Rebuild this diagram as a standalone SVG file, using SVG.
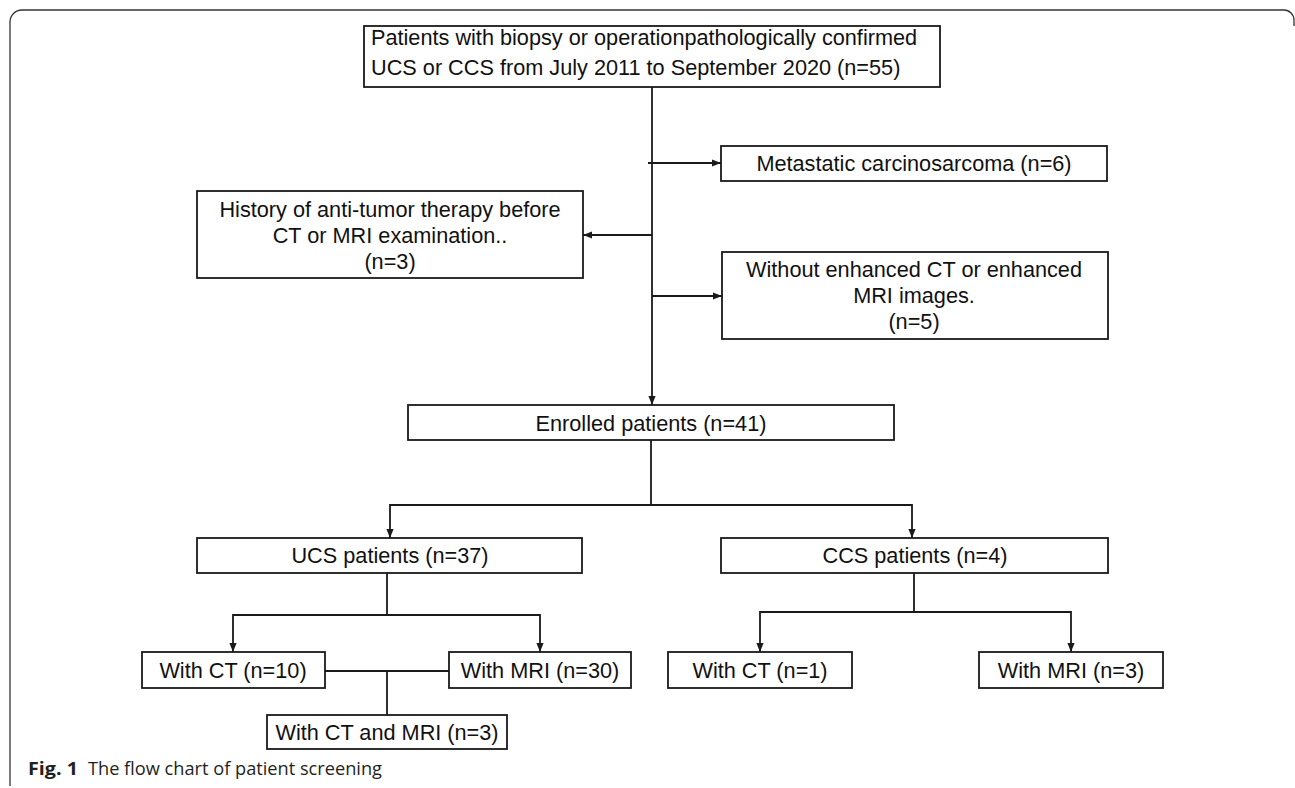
<svg xmlns="http://www.w3.org/2000/svg" width="1295" height="788" viewBox="0 0 1295 788">
<style>
.box{fill:#fff;stroke:#1a1a1a;stroke-width:1.8}
.t{font-family:"Liberation Sans",Arial,sans-serif;font-size:21.7px;fill:#111;text-anchor:middle}
.ln{fill:none;stroke:#1a1a1a;stroke-width:1.8}
.cap{font-family:"Open Sans","Noto Sans",sans-serif;font-size:18.5px;fill:#231f20}
</style>
<defs>
<marker id="ah" viewBox="0 0 10 8" refX="10" refY="4" markerWidth="9" markerHeight="7.2" orient="auto" markerUnits="userSpaceOnUse">
<path d="M0,0 L10,4 L0,8 z" fill="#1a1a1a"/>
</marker>
</defs>
<rect width="1295" height="788" fill="#fff"/>
<path d="M10,786 V22 A12,12 0 0 1 22,10 H1284 A10,10 0 0 1 1294,20 V26" fill="none" stroke="#333" stroke-width="1.3"/>

<g id="connectors">
<path class="ln" d="M652,87 V405" marker-end="url(#ah)"/>
<path class="ln" d="M648,163 H721" marker-end="url(#ah)"/>
<path class="ln" d="M652,235 H583" marker-end="url(#ah)"/>
<path class="ln" d="M652,296 H722" marker-end="url(#ah)"/>
<path class="ln" d="M651,440 V505 H390 V538" marker-end="url(#ah)"/>
<path class="ln" d="M651,505 H912 V538" marker-end="url(#ah)"/>
<path class="ln" d="M387,573 V615 H233 V652" marker-end="url(#ah)"/>
<path class="ln" d="M387,615 H540 V652" marker-end="url(#ah)"/>
<path class="ln" d="M914,573 V612 H760 V652" marker-end="url(#ah)"/>
<path class="ln" d="M914,612 H1071 V652" marker-end="url(#ah)"/>
<path class="ln" d="M325,671 H449 M387,671 V715"/>
</g>

<g id="n_top"><rect class="box" x="364" y="26" width="576" height="61"/>
<text class="t" x="371" y="45" style="text-anchor:start">Patients with biopsy or operationpathologically confirmed</text>
<text class="t" x="371" y="75" style="text-anchor:start">UCS or CCS from July 2011 to September 2020 (n=55)</text></g>
<g id="n_meta"><rect class="box" x="721" y="146" width="386" height="35"/>
<text class="t" x="914" y="171">Metastatic carcinosarcoma (n=6)</text></g>
<g id="n_hist"><rect class="box" x="197" y="191" width="386" height="87"/>
<text class="t" x="390" y="217">History of anti-tumor therapy before</text>
<text class="t" x="390" y="243">CT or MRI examination..</text>
<text class="t" x="390" y="269">(n=3)</text></g>
<g id="n_without"><rect class="box" x="722" y="252" width="386" height="87"/>
<text class="t" x="914" y="277">Without enhanced CT or enhanced</text>
<text class="t" x="914" y="303">MRI images.</text>
<text class="t" x="914" y="329">(n=5)</text></g>
<g id="n_enrolled"><rect class="box" x="408" y="405" width="486" height="35"/>
<text class="t" x="651" y="431">Enrolled patients (n=41)</text></g>
<g id="n_ucs"><rect class="box" x="197" y="538" width="385" height="35"/>
<text class="t" x="390" y="563">UCS patients (n=37)</text></g>
<g id="n_ccs"><rect class="box" x="721" y="538" width="387" height="35"/>
<text class="t" x="915" y="563">CCS patients (n=4)</text></g>
<g id="n_ucs_ct"><rect class="box" x="142" y="652" width="183" height="36"/>
<text class="t" x="233" y="678">With CT  (n=10)</text></g>
<g id="n_ucs_mri"><rect class="box" x="449" y="652" width="182" height="36"/>
<text class="t" x="540" y="678">With MRI  (n=30)</text></g>
<g id="n_both"><rect class="box" x="267" y="715" width="240" height="34"/>
<text class="t" x="387" y="740">With CT and MRI (n=3)</text></g>
<g id="n_ccs_ct"><rect class="box" x="668" y="652" width="184" height="36"/>
<text class="t" x="760" y="678">With CT  (n=1)</text></g>
<g id="n_ccs_mri"><rect class="box" x="979" y="652" width="184" height="36"/>
<text class="t" x="1071" y="678">With MRI  (n=3)</text></g>

<text class="cap" x="28" y="775" font-weight="bold" textLength="50" lengthAdjust="spacingAndGlyphs">Fig. 1</text>
<text class="cap" x="88" y="775" textLength="294" lengthAdjust="spacingAndGlyphs">The flow chart of patient screening</text>
</svg>
